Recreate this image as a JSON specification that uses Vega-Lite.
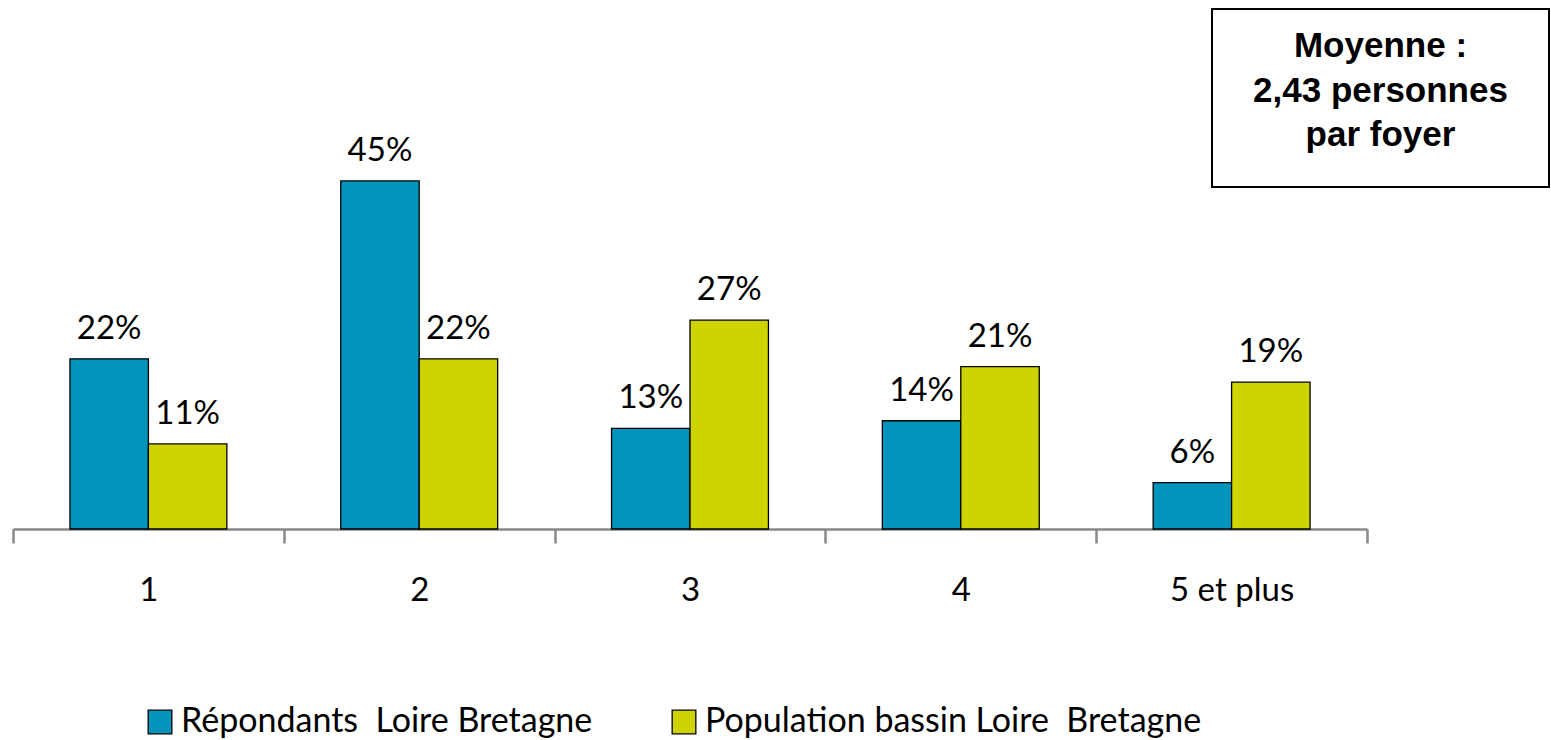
{
  "$schema": "https://vega.github.io/schema/vega-lite/v6.json",
  "width": 1354,
  "height": 529,
  "autosize": {"type": "none"},
  "padding": {"left": 13, "top": 0, "right": 184, "bottom": 211},
  "background": "white",
  "config": {"view": {"stroke": null}, "font": "Lato"},
  "data": {"values": [
    {"taille": "1", "serie": "Répondants \u00a0Loire Bretagne", "pct": 0.22},
    {"taille": "1", "serie": "Population bassin Loire \u00a0Bretagne", "pct": 0.11},
    {"taille": "2", "serie": "Répondants \u00a0Loire Bretagne", "pct": 0.45},
    {"taille": "2", "serie": "Population bassin Loire \u00a0Bretagne", "pct": 0.22},
    {"taille": "3", "serie": "Répondants \u00a0Loire Bretagne", "pct": 0.13},
    {"taille": "3", "serie": "Population bassin Loire \u00a0Bretagne", "pct": 0.27},
    {"taille": "4", "serie": "Répondants \u00a0Loire Bretagne", "pct": 0.14},
    {"taille": "4", "serie": "Population bassin Loire \u00a0Bretagne", "pct": 0.21},
    {"taille": "5 et plus", "serie": "Répondants \u00a0Loire Bretagne", "pct": 0.06},
    {"taille": "5 et plus", "serie": "Population bassin Loire \u00a0Bretagne", "pct": 0.19}
  ]},
  "layer": [
    {
      "mark": {"type": "bar", "stroke": "black", "strokeWidth": 1.3},
      "encoding": {
        "x": {"field": "taille", "type": "nominal", "sort": null,
          "scale": {"paddingInner": 0, "paddingOuter": 0},
          "axis": {"title": null, "labelAngle": 0, "labelFont": "Lato", "labelFontSize": 33, "labelColor": "black",
            "labelPadding": 31, "domainColor": "#888888", "domainWidth": 2.5, "tickColor": "#888888",
            "tickWidth": 2.5, "tickSize": 14, "tickBand": "extent"}},
        "xOffset": {"field": "serie", "type": "nominal", "sort": null,
          "scale": {"paddingInner": 0, "paddingOuter": 0.726}},
        "y": {"field": "pct", "type": "quantitative", "scale": {"domain": [0, 0.684], "nice": false, "zero": true}, "axis": null},
        "color": {"field": "serie", "type": "nominal", "sort": null,
          "scale": {"range": ["#0094BD", "#CED400"]},
          "legend": {"title": null, "orient": "none", "legendX": 130, "legendY": 705, "direction": "horizontal",
            "symbolType": "square", "symbolSize": 560, "symbolStrokeColor": "black", "symbolStrokeWidth": 1.3,
            "labelFont": "Lato", "labelFontSize": 34, "labelColor": "black", "labelOffset": 4,
            "columnPadding": 74, "labelLimit": 700}}
      }
    },
    {
      "mark": {"type": "text", "baseline": "alphabetic", "dy": -20, "fontSize": 33, "font": "Lato", "color": "black"},
      "encoding": {
        "x": {"field": "taille", "type": "nominal", "sort": null},
        "xOffset": {"field": "serie", "type": "nominal", "sort": null},
        "y": {"field": "pct", "type": "quantitative"},
        "text": {"field": "pct", "type": "quantitative", "format": ".0%"}
      }
    },
    {
      "data": {"values": [{"note": "Moyenne"}]},
      "mark": {"type": "rect", "fill": "white", "stroke": "black", "strokeWidth": 2},
      "encoding": {
        "x": {"value": 1199}, "x2": {"value": 1536},
        "y": {"value": 9}, "y2": {"value": 187}
      }
    },
    {
      "data": {"values": [{"note": ["Moyenne :", "2,43 personnes", "par foyer"]}]},
      "mark": {"type": "text", "font": "Liberation Sans", "fontWeight": "bold", "fontSize": 35,
        "lineHeight": 44.5, "align": "center", "baseline": "alphabetic", "color": "black"},
      "encoding": {
        "x": {"value": 1367.5}, "y": {"value": 57},
        "text": {"field": "note"}
      }
    }
  ]
}
